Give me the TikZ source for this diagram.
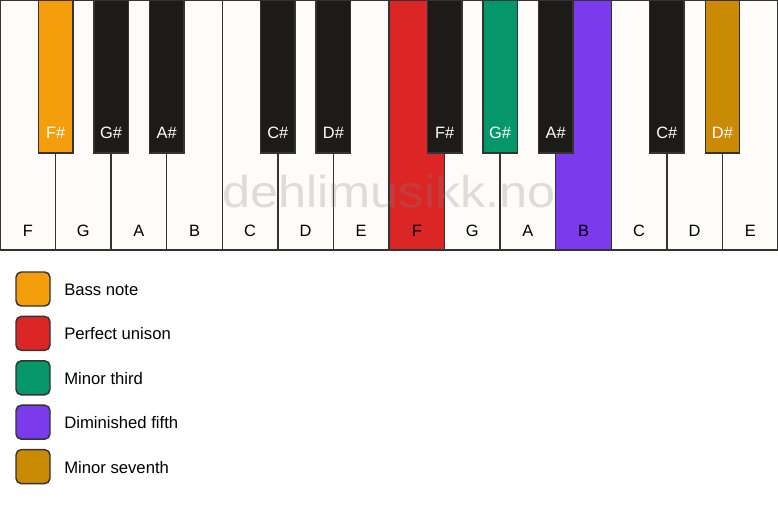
\documentclass[tikz,border=0pt]{standalone}
\usepackage{fontspec}
\setmainfont{Liberation Sans}
\definecolor{keywhite}{HTML}{FDFCF9}
\definecolor{keyblack}{HTML}{1C1B19}
\definecolor{keyline}{HTML}{333333}
\definecolor{cbass}{HTML}{F59E0B}
\definecolor{cunison}{HTML}{DC2626}
\definecolor{cthird}{HTML}{059669}
\definecolor{cfifth}{HTML}{7C3AED}
\definecolor{cseventh}{HTML}{CA8A04}
\definecolor{wmark}{HTML}{808080}
\tikzset{
  keyrect/.style={draw=keyline, line width=1.1pt},
  wlabel/.style={anchor=base, font=\fontsize{12.3pt}{14pt}\selectfont, text=black, inner sep=0pt},
  blabel/.style={anchor=base, font=\fontsize{12.3pt}{14pt}\selectfont, text=white, inner sep=0pt},
  legbox/.style={draw=keyline, line width=1.1pt, rounded corners=4pt, minimum width=25.5pt, minimum height=25.5pt, inner sep=0pt},
  legtext/.style={anchor=base west, font=\fontsize{12.5pt}{14pt}\selectfont, inner sep=0pt},
}
\begin{document}
\begin{tikzpicture}[x=0.75pt,y=-0.75pt]
\useasboundingbox (0,0) rectangle (778,506);
\fill[white] (0,0) rectangle (778,506);
% white keys
\foreach \i/\n/\c in {0/F/keywhite,1/G/keywhite,2/A/keywhite,3/B/keywhite,4/C/keywhite,5/D/keywhite,6/E/keywhite,7/F/cunison,8/G/keywhite,9/A/keywhite,10/B/cfifth,11/C/keywhite,12/D/keywhite,13/E/keywhite}{
  \pgfmathsetmacro{\xa}{\i*778/14}
  \pgfmathsetmacro{\xb}{(\i+1)*778/14}
  \filldraw[keyrect, fill=\c] (\xa,0) rectangle (\xb,250);
  \node[wlabel] (w\i) at ({(\xa+\xb)/2},236) {\n};
}
% watermark
\node[anchor=base, inner sep=0pt, text=wmark, opacity=0.25, xscale=1.13, font=\fontsize{33.5pt}{36pt}\selectfont] (wm) at (389,207) {dehlimusikk.no};
% black keys
\foreach \j/\n/\c in {1/F\#/cbass,2/G\#/keyblack,3/A\#/keyblack,5/C\#/keyblack,6/D\#/keyblack,8/F\#/keyblack,9/G\#/cthird,10/A\#/keyblack,12/C\#/keyblack,13/D\#/cseventh}{
  \pgfmathsetmacro{\xm}{\j*778/14}
  \filldraw[keyrect, fill=\c] ({\xm-17.2},0) rectangle ({\xm+17.2},153);
  \node[blabel] (b\j) at (\xm,139) {\n};
}
% legend
\foreach \k/\c/\t in {0/cbass/Bass note,1/cunison/Perfect unison,2/cthird/Minor third,3/cfifth/Diminished fifth,4/cseventh/Minor seventh}{
  \node[legbox, fill=\c] (lb\k) at (33,{289+\k*44.4}) {};
  \node[legtext] (lt\k) at (64,{295.5+\k*44.4}) {\t};
}
\end{tikzpicture}
\end{document}
